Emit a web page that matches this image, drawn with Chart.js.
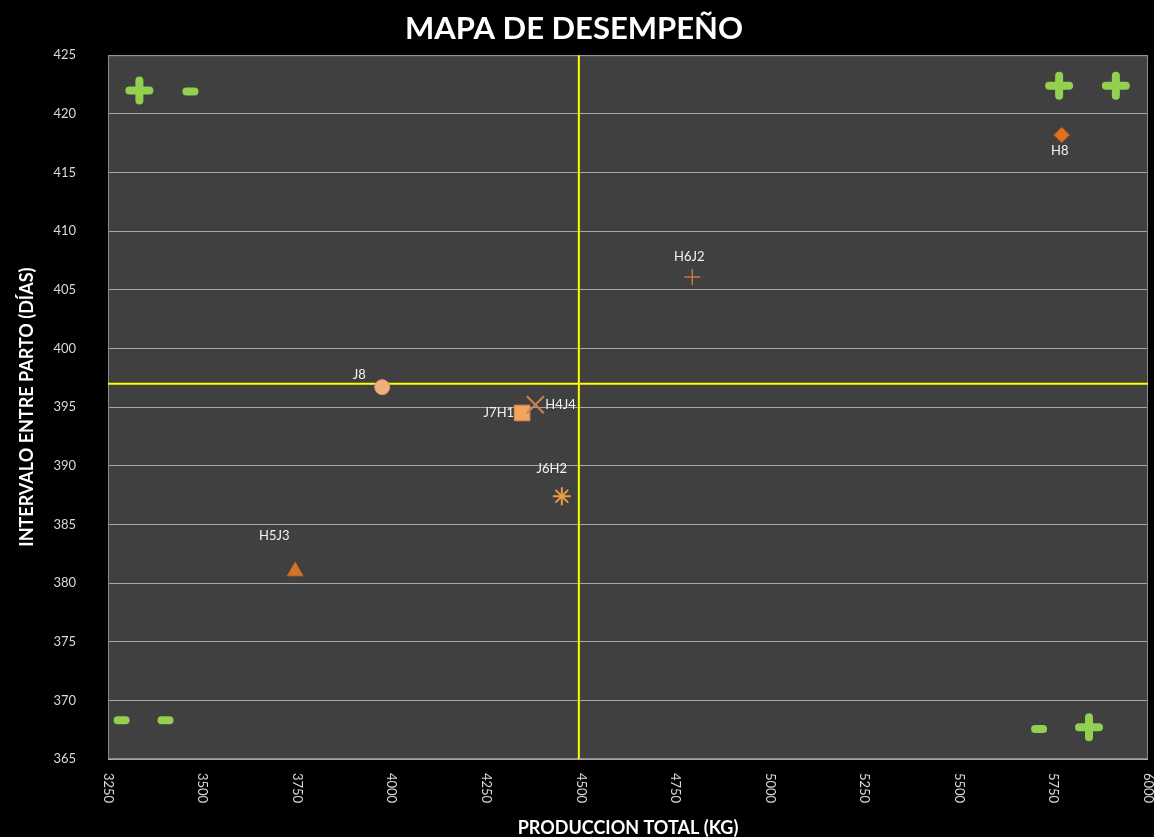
<!DOCTYPE html>
<html lang="es">
<head>
    <meta charset="UTF-8">
    <title>Mapa de desempeño</title>
    <script src="https://cdn.jsdelivr.net/npm/chart.js"></script>
    <style>
        body { margin: 0; background: #000; }
        canvas { display: block; }
    </style>
</head>
<body>
    <canvas id="mapa" width="1154" height="837"></canvas>

    <script>
        // Datos
        const nombres = ['J8', 'J7H1', 'H4J4', 'J6H2', 'H5J3', 'H6J2', 'H8'];
        const produccion = [3975, 4345, 4380, 4450, 3745, 4795, 5772];   // kg
        const intervalo = [396.7, 394.5, 395.2, 387.4, 381.0, 406.1, 418.2]; // dias

        // Lineas de referencia (promedios)
        const promedioProduccion = 4495;
        const promedioIntervalo = 397;

        // Ejes
        const ejeX = { min: 3250, max: 6000, paso: 250 };
        const ejeY = { min: 365, max: 425, paso: 5 };

        // Estilo de cada marcador
        const estilos = ['circle', 'rect', 'crossRot', 'star', 'triangle', 'cross', 'rectRot'];
        const radios = [7.5, 11, 12, 9, 9, 8, 7.5];
        const rellenos = ['#efb07e', '#f2a461', '#c9824f', '#e99a45', '#d4742b', '#c27a44', '#e2711f'];
        const bordes = ['#d99868', '#e08c48', '#c9824f', '#e99a45', '#c86a22', '#c27a44', '#d0641a'];
        const grosores = [1, 1, 2, 2, 1, 1.5, 1];

        // Desplazamiento de cada etiqueta respecto a su punto [dx, dy, alineacion]
        const posEtiquetas = [
            [-23, -12, 'center'],
            [-8, 0, 'right'],
            [10, 0, 'left'],
            [-10, -27, 'center'],
            [-21, -36, 'center'],
            [-3, -20, 'center'],
            [-2, 16, 'center']
        ];

        // Signos de los cuadrantes (en unidades de los ejes)
        const signos = [
            ['+', 3333, 422.0], ['-', 3468, 421.9],
            ['+', 5765, 422.4], ['+', 5915, 422.4],
            ['-', 3286, 368.3], ['-', 3402, 368.3],
            ['-', 5712, 367.55], ['+', 5844, 367.7]
        ];

        const fuente = 'Lato, "Open Sans", sans-serif';

        // Fondo negro y area de trazado gris
        const fondo = {
            id: 'fondo',
            beforeDraw(chart) {
                const { ctx, chartArea: a } = chart;
                ctx.save();
                ctx.fillStyle = '#000';
                ctx.fillRect(0, 0, chart.width, chart.height);
                ctx.fillStyle = '#404040';
                ctx.fillRect(a.left, a.top, a.right - a.left, a.bottom - a.top);
                ctx.restore();
            },
            beforeDatasetsDraw(chart) {
                const { ctx, chartArea: a, scales } = chart;
                ctx.save();
                ctx.strokeStyle = '#8c8c8c';
                ctx.lineWidth = 1;
                ctx.strokeRect(a.left + 0.5, a.top + 0.5, a.right - a.left - 1, a.bottom - a.top - 1);

                // signos + y -
                ctx.strokeStyle = '#92d050';
                ctx.lineWidth = 8;
                ctx.lineCap = 'round';
                signos.forEach(([s, vx, vy]) => {
                    const x = scales.x.getPixelForValue(vx);
                    const y = scales.y.getPixelForValue(vy);
                    ctx.beginPath();
                    if (s === '+') {
                        ctx.moveTo(x - 10, y); ctx.lineTo(x + 10, y);
                        ctx.moveTo(x, y - 10); ctx.lineTo(x, y + 10);
                    } else {
                        ctx.moveTo(x - 4, y); ctx.lineTo(x + 4, y);
                    }
                    ctx.stroke();
                });
                ctx.restore();
            },
            afterDatasetsDraw(chart) {
                const { ctx } = chart;
                const meta = chart.getDatasetMeta(2);
                ctx.save();
                ctx.font = '13px ' + fuente;
                ctx.fillStyle = '#f2f2f2';
                ctx.textBaseline = 'middle';
                meta.data.forEach((p, i) => {
                    const [dx, dy, al] = posEtiquetas[i];
                    ctx.textAlign = al;
                    ctx.fillText(nombres[i], p.x + dx, p.y + dy);
                });
                ctx.restore();
            },
            afterDraw(chart) {
                // etiquetas del eje X giradas (de arriba hacia abajo)
                const { ctx, scales, chartArea: a } = chart;
                ctx.save();
                ctx.font = '13px ' + fuente;
                ctx.fillStyle = '#d9d9d9';
                ctx.textAlign = 'left';
                ctx.textBaseline = 'middle';
                scales.x.ticks.forEach(t => {
                    const x = scales.x.getPixelForValue(t.value);
                    ctx.save();
                    ctx.translate(x, a.bottom + 14);
                    ctx.rotate(Math.PI / 2);
                    ctx.fillText(String(t.value), 0, 0);
                    ctx.restore();
                });
                ctx.restore();
            }
        };

        const ctx = document.getElementById('mapa').getContext('2d');
        const mapa = new Chart(ctx, {
            type: 'scatter',
            data: {
                datasets: [
                    {
                        // promedio produccion (vertical)
                        data: [{ x: promedioProduccion, y: ejeY.min }, { x: promedioProduccion, y: ejeY.max }],
                        showLine: true,
                        borderColor: '#ffff00',
                        borderWidth: 2,
                        pointRadius: 0,
                        order: 3
                    },
                    {
                        // promedio intervalo (horizontal)
                        data: [{ x: ejeX.min, y: promedioIntervalo }, { x: ejeX.max, y: promedioIntervalo }],
                        showLine: true,
                        borderColor: '#ffff00',
                        borderWidth: 2,
                        pointRadius: 0,
                        order: 2
                    },
                    {
                        label: 'Razas',
                        data: nombres.map((n, i) => ({ x: produccion[i], y: intervalo[i] })),
                        pointStyle: estilos,
                        pointRadius: radios,
                        pointHoverRadius: radios,
                        backgroundColor: rellenos,
                        borderColor: bordes,
                        borderWidth: grosores,
                        order: 1
                    }
                ]
            },
            options: {
                responsive: false,
                animation: false,
                devicePixelRatio: 1,
                layout: { autoPadding: false, padding: { left: 0, right: 6, top: 0, bottom: 0 } },
                plugins: {
                    legend: { display: false },
                    tooltip: { enabled: false },
                    title: {
                        display: true,
                        text: 'MAPA DE DESEMPEÑO',
                        color: '#ffffff',
                        font: { family: fuente, size: 31, weight: 'bold', lineHeight: 1.2 },
                        padding: { top: 10, bottom: 8 }
                    }
                },
                scales: {
                    x: {
                        type: 'linear',
                        min: ejeX.min,
                        max: ejeX.max,
                        ticks: { stepSize: ejeX.paso, display: false },
                        grid: { display: false },
                        border: { display: false },
                        title: {
                            display: true,
                            text: 'PRODUCCION TOTAL (KG)',
                            color: '#ffffff',
                            font: { family: fuente, size: 18, weight: 'bold', lineHeight: 1 },
                            padding: { bottom: 0 }
                        },
                        afterFit(scale) {
                            scale.height = 78;
                        }
                    },
                    y: {
                        min: ejeY.min,
                        max: ejeY.max,
                        ticks: {
                            stepSize: ejeY.paso,
                            color: '#d9d9d9',
                            padding: 32,
                            font: { family: fuente, size: 13 }
                        },
                        grid: { color: '#a6a6a6', lineWidth: 1, drawTicks: false },
                        border: { display: false },
                        title: {
                            display: true,
                            text: 'INTERVALO ENTRE PARTO (DÍAS)',
                            color: '#ffffff',
                            font: { family: fuente, size: 18, weight: 'bold', lineHeight: 1.2 },
                            padding: { top: 16 }
                        },
                        afterFit(scale) {
                            scale.width = 108;
                        }
                    }
                }
            },
            plugins: [fondo]
        });
    </script>
</body>
</html>
